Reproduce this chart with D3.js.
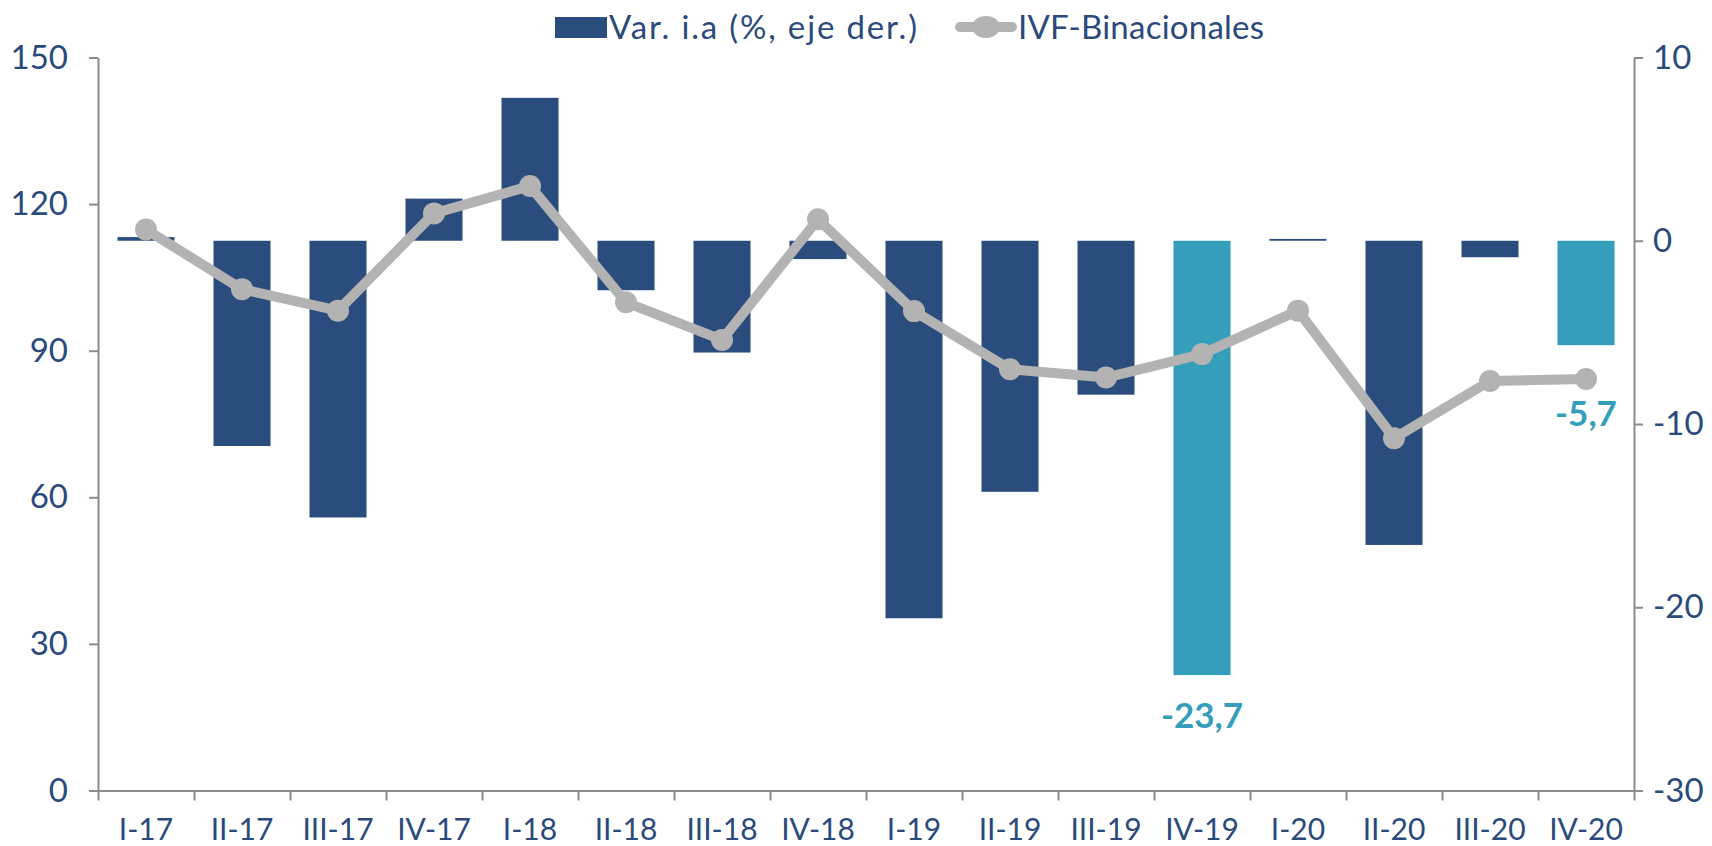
<!DOCTYPE html>
<html>
<head>
<meta charset="utf-8">
<script src="https://cdn.jsdelivr.net/npm/d3@7"></script>
<style>
  html, body { margin: 0; padding: 0; background: #ffffff; }
  svg { display: block; }
  text { font-family: Lato, "Open Sans", sans-serif; }
</style>
</head>
<body>
<svg id="chart" width="1712" height="846"></svg>
<script>
const categories = ["I-17","II-17","III-17","IV-17","I-18","II-18","III-18","IV-18","I-19","II-19","III-19","IV-19","I-20","II-20","III-20","IV-20"];
const varIA = [0.2, -11.2, -15.1, 2.3, 7.8, -2.7, -6.1, -1.0, -20.6, -13.7, -8.4, -23.7, 0.1, -16.6, -0.9, -5.7];
const ivf = [114.8, 102.6, 98.2, 118.1, 123.7, 99.9, 92.2, 116.9, 98.1, 86.2, 84.5, 89.3, 98.2, 72.1, 83.8, 84.2];
const highlighted = ["IV-19", "IV-20"];
const leftTicks = [0, 30, 60, 90, 120, 150];
const rightTicks = [-30, -20, -10, 0, 10];
const seriesNames = ["Var. i.a (%, eje der.)", "IVF-Binacionales"];

const C_BAR = "#2B4D7E", C_HI = "#359FBB", C_LINE = "#B3B3B3", C_TEXT = "#2A4A7B", C_AXIS = "#8C8C8C";

const svg = d3.select("#chart");
const X0 = 98, X1 = 1634, Y0 = 790.5, Y1 = 57.5;

const x = d3.scaleBand().domain(categories).range([X0, X1]).padding(0);
const xTicks = d3.scaleLinear().domain([0, categories.length]).range([X0, X1]);
const yL = d3.scaleLinear().domain([0, 150]).range([Y0, Y1]);
const yR = d3.scaleLinear().domain([-30, 10]).range([Y0, Y1]);
const bw = x.bandwidth() * 0.594;
const off = (x.bandwidth() - bw) / 2;

// bars
svg.append("g").selectAll("rect").data(categories).join("rect")
  .attr("x", d => x(d) + off)
  .attr("width", bw)
  .attr("y", (d, i) => yR(Math.max(0, varIA[i])))
  .attr("height", (d, i) => Math.max(1.5, Math.abs(yR(varIA[i]) - yR(0))))
  .attr("fill", d => highlighted.includes(d) ? C_HI : C_BAR);

// axes
function styleAxis(g) {
  g.selectAll("path.domain").attr("stroke", C_AXIS).attr("stroke-width", 2);
  g.selectAll(".tick line").attr("stroke", C_AXIS).attr("stroke-width", 2);
  g.selectAll("text").attr("fill", C_TEXT).attr("font-family", "Lato, sans-serif");
}

const gL = svg.append("g").attr("transform", `translate(${X0},0)`)
  .call(d3.axisLeft(yL).tickValues(leftTicks).tickSize(9).tickSizeOuter(0).tickPadding(21).tickFormat(d => String(d)));
styleAxis(gL);
gL.selectAll("text").attr("font-size", 33);

const gR = svg.append("g").attr("transform", `translate(${X1},0)`)
  .call(d3.axisRight(yR).tickValues(rightTicks).tickSize(9).tickSizeOuter(0).tickPadding(10).tickFormat(d => String(d)));
styleAxis(gR);
gR.selectAll("text").attr("font-size", 33);

const gBt = svg.append("g").attr("transform", `translate(0,${Y0})`)
  .call(d3.axisBottom(xTicks).tickValues(d3.range(categories.length + 1)).tickSize(10).tickSizeOuter(0).tickFormat(""));
styleAxis(gBt);

const gBl = svg.append("g").attr("transform", `translate(0,${Y0})`)
  .call(d3.axisBottom(x).tickSize(0).tickPadding(28));
gBl.select("path.domain").remove();
gBl.selectAll("text").attr("fill", C_TEXT).attr("font-size", 30).attr("font-family", "Lato, sans-serif");

// line
const line = d3.line().x((d, i) => x(categories[i]) + x.bandwidth() / 2).y(d => yL(d));
svg.append("path").datum(ivf).attr("d", line)
  .attr("fill", "none").attr("stroke", C_LINE).attr("stroke-width", 10).attr("stroke-linejoin", "round");
svg.append("g").selectAll("circle").data(ivf).join("circle")
  .attr("cx", (d, i) => x(categories[i]) + x.bandwidth() / 2)
  .attr("cy", d => yL(d)).attr("r", 11).attr("fill", C_LINE);

// data labels
const lblIdx = [categories.indexOf("IV-19"), categories.indexOf("IV-20")];
svg.append("text")
  .attr("x", x("IV-19") + x.bandwidth() / 2).attr("y", yR(varIA[lblIdx[0]]) + 53)
  .attr("text-anchor", "middle").attr("font-size", 35).attr("font-weight", "bold").attr("fill", C_HI)
  .text(String(varIA[lblIdx[0]]).replace(".", ","));
svg.append("text")
  .attr("x", x("IV-20") + x.bandwidth() / 2).attr("y", yR(varIA[lblIdx[1]]) + 81)
  .attr("text-anchor", "middle").attr("font-size", 35).attr("font-weight", "bold").attr("fill", C_HI)
  .text(String(varIA[lblIdx[1]]).replace(".", ","));

// legend
const lg = svg.append("g");
lg.append("rect").attr("x", 555).attr("y", 17).attr("width", 52).attr("height", 21).attr("fill", C_BAR);
lg.append("text").attr("x", 609).attr("y", 38.5).attr("font-size", 33).attr("fill", C_TEXT)
  .attr("textLength", 308).attr("lengthAdjust", "spacing").text(seriesNames[0]);
lg.append("line").attr("x1", 960).attr("x2", 1012).attr("y1", 27).attr("y2", 27)
  .attr("stroke", C_LINE).attr("stroke-width", 10).attr("stroke-linecap", "round");
lg.append("ellipse").attr("cx", 986).attr("cy", 27).attr("rx", 14).attr("ry", 11).attr("fill", C_LINE);
lg.append("text").attr("x", 1018).attr("y", 38.5).attr("font-size", 33).attr("fill", C_TEXT)
  .attr("textLength", 246).attr("lengthAdjust", "spacing").text(seriesNames[1]);
</script>
</body>
</html>
